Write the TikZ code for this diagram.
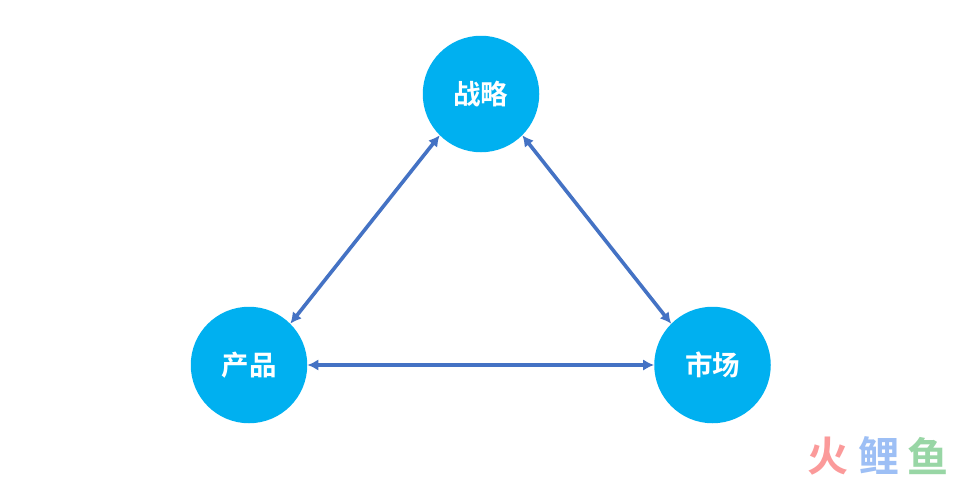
\documentclass[tikz,border=0pt]{standalone}
\usepackage{fontspec}
\newfontfamily\cjk{Noto Sans CJK SC}[BoldFont={Noto Sans CJK SC Bold}]
\usetikzlibrary{arrows.meta}
\definecolor{circ}{HTML}{00B0F0}
\definecolor{arr}{HTML}{4472C4}
\definecolor{wmr}{HTML}{FB9A9A}
\definecolor{wmb}{HTML}{9DBFF5}
\definecolor{wmg}{HTML}{98D6A5}
\tikzset{
  ball/.style={circle,fill=circ,minimum size=116.5pt,inner sep=0pt,text=white,font=\cjk\bfseries\fontsize{27.5}{32}\selectfont},
  link/.style={draw=arr,line width=3.6pt,{Latex[length=11pt,width=11.5pt]}-{Latex[length=11pt,width=11.5pt]}},
  wm/.style={inner sep=0pt,font=\cjk\bfseries\fontsize{41}{48}\selectfont}
}
\begin{document}
\begin{tikzpicture}[x=1pt,y=-1pt]
\useasboundingbox (0,0) rectangle (974,479);
\fill[white] (0,0) rectangle (974,479);
\node[ball] (s) at (481,94) {\kern-1pt 战略};
\node[ball] (p) at (249,365) {产品};
\node[ball] (m) at (712.5,365) {市场};
\draw[link] (s.225) -- (p.45);
\draw[link] (s.-45) -- (m.135);
\draw[link] (p.east) -- (m.west);
\node[wm,text=wmr] (w1) at (828,456) {火};
\node[wm,text=wmb] (w2) at (879,456) {鲤};
\node[wm,text=wmg] (w3) at (928,456) {鱼};
\end{tikzpicture}
\end{document}
